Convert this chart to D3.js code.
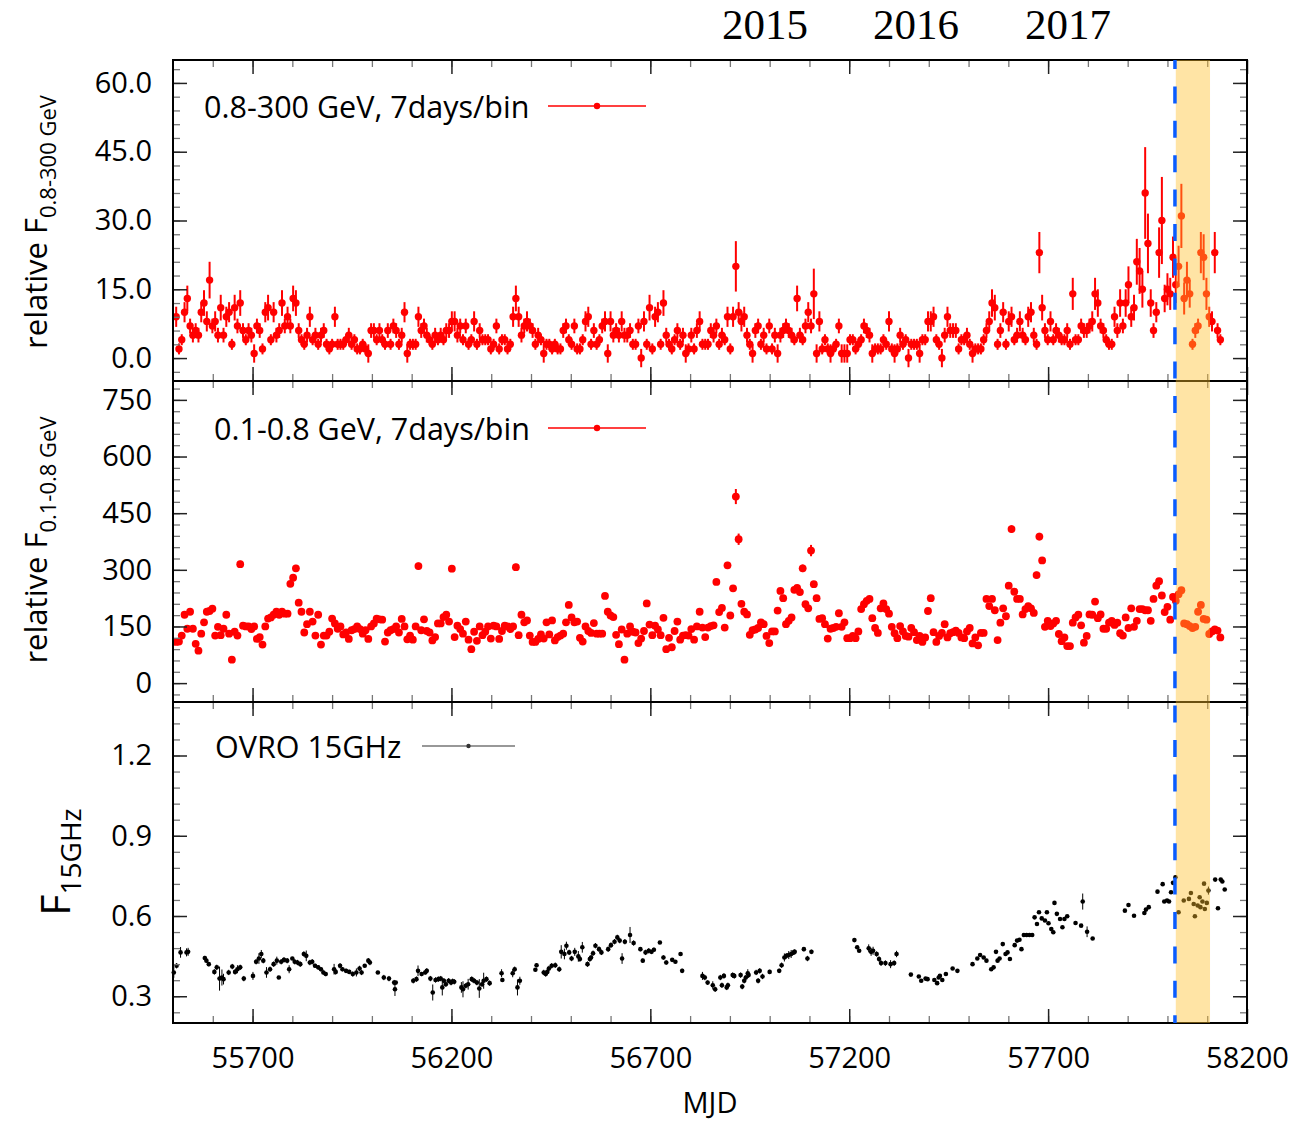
<!DOCTYPE html>
<html>
<head>
<meta charset="utf-8">
<script src="https://cdn.jsdelivr.net/npm/d3@7"></script>
<style>
  body { margin: 0; background: #fff; }
  svg text { font-family: "Open Sans", sans-serif; fill: #000; }
</style>
</head>
<body>
<svg id="chart" width="1311" height="1122"></svg>
<script>
// ---- Fermi-LAT weekly light curves (7 days/bin) ----
const binStart = 55508;
const binDays = 7;

// 0.8-300 GeV relative flux per bin
const gevFlux = [
  9,2,4,10,13,7,5,6,5,10, 12,8,17,7,8,5,11,5,9,10, 3,11,7,12,6,4,6,5,1,7,
  6,2,10,11,4,10,5,6,12,7, 9,7,13,12,6,4,3,5,9,4, 5,3,5,6,3,2,3,9,3,3,
  3,4,5,3,4,2,2,3,2,1, 6,6,4,6,4,3,6,3,7,6, 3,5,10,1,3,3,3,9,6,7,
  5,4,3,5,4,5,4,6,6,8, 8,5,7,4,7,3,4,8,3,6, 4,4,4,2,3,7,2,4,4,2,
  3,9,13,9,5,7,8,7,6,3, 5,4,1,3,3,2,3,2,2,6, 7,4,3,7,2,2,4,8,9,3,
  6,3,4,7,8,1,8,5,6,5, 8,5,5,6,3,3,7,0,8,3, 11,2,9,10,3,12,5,3,2,4,
  6,3,5,1,2,5,2,6,8,3, 3,3,6,
  5,7,3,5,4,9,2,9,20,10, 8,9,5,3,1,6,7,3,5,2, 7,2,5,1,5,6,7,6,5,4,
  13,5,4,7,10,7,14,1,8,2, 4,2,1,2,3,7,1,1,1,4, 4,2,3,4,7,6,5,1,2,2,
  2,4,3,8,2,1,2,5,3,4, 0,3,3,3,1,4,4,8,8,9, 4,3,0,5,9,6,6,6,2,4,
  4,5,3,1,2,2,2,4,6,8, 12,11,3,6,10,3,8,9,4,5, 8,5,4,9,10,5,3,23,11,6,
  4,8,4,6,5,4,4,6,3,14, 4,4,7,6,6,7,8,14,12,7, 6,4,3,3,9,6,12,7,12,16,
  9,11,21,19,15,36,25,12,6,10, 23,30,13,15,14,22,
  16,20,31,13,17,14,3,6,7,23,22,14,9,
  8,23,6,4
];
const gevErr = [
  2.2,1.2,1.2,2.2,2.8,1.6,1.6,1.6,1.6,2.2, 2.8,2.2,4,1.6,2.2,1.6,2.8,1.6,2.2,2.2,
  1.2,2.8,1.6,2.8,1.6,1.2,1.6,1.6,2,1.6, 1.6,1.2,2.2,2.8,1.2,2.2,1.6,1.6,2.8,1.6,
  2.2,1.6,2.8,2.8,1.6,1.2,1.2,1.6,2.2,1.2, 1.6,1.2,1.6,1.6,1.2,1.2,1.2,2.2,1.2,1.2,
  1.2,1.2,1.6,1.2,1.2,1.2,1.2,1.2,1.2,2, 1.6,1.6,1.2,1.6,1.2,1.2,1.6,1.2,1.6,1.6,
  1.2,1.6,2.2,2,1.2,1.2,1.2,2.2,1.6,1.6, 1.6,1.2,1.2,1.6,1.2,1.6,1.2,1.6,1.6,2.2,
  2.2,1.6,1.6,1.2,1.6,1.2,1.2,2.2,1.2,1.6, 1.2,1.2,1.2,1.2,1.2,1.6,1.2,1.2,1.2,1.2,
  1.2,2.2,2.8,2.2,1.6,1.6,2.2,1.6,1.6,1.2, 1.6,1.2,2,1.2,1.2,1.2,1.2,1.2,1.2,1.6,
  1.6,1.2,1.2,1.6,1.2,1.2,1.2,2.2,2.2,1.2, 1.6,1.2,1.2,1.6,2.2,2,2.2,1.6,1.6,1.6,
  2.2,1.6,1.6,1.6,1.2,1.2,1.6,2,2.2,1.2, 2.8,1.2,2.2,2.2,1.2,2.8,1.6,1.2,1.2,1.2,
  1.6,1.2,1.6,2,1.2,1.6,1.2,1.6,2.2,1.2, 1.2,1.2,1.6,
  1.6,1.6,1.2,1.6,1.2,2.2,1.2,2.2,5.5,2.2, 2.2,2.2,1.6,1.2,2,1.6,1.6,1.2,1.6,1.2,
  1.6,1.2,1.6,2,1.6,1.6,1.6,1.6,1.6,1.2, 2.8,1.6,1.2,1.6,2.2,1.6,5.5,2,2.2,1.2,
  1.2,1.2,2,1.2,1.2,1.6,2,2,2,1.2, 1.2,1.2,1.2,1.2,1.6,1.6,1.6,2,1.2,1.2,
  1.2,1.2,1.2,2.2,1.2,2,1.2,1.6,1.2,1.2, 2,1.2,1.2,1.2,2,1.2,1.2,2.2,2.2,2.2,
  1.2,1.2,2,1.6,2.2,1.6,1.6,1.6,1.2,1.2, 1.2,1.6,1.2,2,1.2,1.2,1.2,1.2,1.6,2.2,
  3,2.8,1.2,1.6,2.2,1.2,2.2,2.2,1.2,1.6, 2.2,1.6,1.2,2.2,2.2,1.6,1.2,4.5,2.8,1.6,
  1.2,2.2,1.2,1.6,1.6,1.2,1.2,1.6,1.2,3.5, 1.2,1.2,1.6,1.6,1.6,1.6,2.2,3.5,3,1.6,
  1.6,1.2,1.2,1.2,2.2,1.6,3,1.6,3,4, 2.2,2.8,5,5,4,10,6.5,3,1.6,2.2,
  5.5,9.5,3,3.5,3.5,4.5,
  4,4.5,7,3.5,4,3,1.2,1.6,1.6,4.5,5,3.5,2.2,
  2.2,4.5,1.6,1.2
];

// 0.1-0.8 GeV relative flux per bin
const softFlux = [
  109,110,126,181,144,189,144,104,86,131, 161,189,191,197,126,149,127,144,181,131,
  62,136,126,315,152,150,150,143,150,117, 122,102,150,171,174,181,189,181,189,184,
  184,263,279,304,213,189,134,156,189,163, 126,181,102,126,126,136,171,158,144,150,
  129,134,117,140,143,150,143,131,140,117, 150,158,171,169,168,110,134,140,143,150,
  134,170,150,116,126,115,150,310,140,169, 138,134,113,122,158,158,175,181,163,303,
  122,152,143,131,163,115,90,136,112,150, 127,136,150,118,152,150,117,138,152,150,
  143,150,307,127,181,161,166,126,109,109, 117,129,118,161,129,166,113,122,126,131,
  161,207,174,161,163,120,110,150,138,133, 159,131,131,131,231,189,179,175,128,103,
  142,62,131,150,136,134,106,118,138,211, 155,127,152,142,127,173,90,120,95,138,
  163,115,126,127,126,143,115,150,189,147, 122,147,
  151,153,268,188,199,147,312,179,251,494, 381,210,189,182,128,140,142,146,161,156,
  125,106,137,137,192,244,225,156,165,174, 247,252,241,304,209,198,351,262,225,170,
  172,156,118,144,146,149,185,149,161,119, 119,125,119,137,196,209,218,223,172,146,
  133,198,211,196,184,149,132,119,151,137, 125,123,146,135,114,125,109,121,191,225,
  135,109,125,133,156,121,132,135,139,133, 121,119,137,146,105,121,100,133,133,223,
  204,223,193,114,160,198,177,258,408,242, 223,223,182,196,204,198,186,286,388,325,
  149,165,151,158,165,130,111,121,98,98, 160,174,181,153,107,125,182,181,216,172,
  182,144,144,160,165,154,160,132,126,174, 146,198,149,165,196,196,193,193,165,223,
  258,270,232,188,202,168,228,
  218,235,246,158,156,151,146,149,189,207,170,168,130,
  137,142,139,121
];
const softErr = [
  5,5,5,5,5,5,5,5,5,5, 5,5,5,5,5,5,5,5,5,5, 5,5,5,9,5,5,5,5,5,5, 5,5,5,5,5,5,5,5,5,5,
  5,8,8,9,7,5,5,5,5,5, 5,5,5,5,5,5,5,5,5,5, 5,5,5,5,5,5,5,5,5,5, 5,5,5,5,5,5,5,5,5,5,
  5,5,5,5,5,5,5,9,5,5, 5,5,5,5,5,5,5,5,5,9, 5,5,5,5,5,5,5,5,5,5, 5,5,5,5,5,5,5,5,5,5,
  5,5,9,5,5,5,5,5,5,5, 5,5,5,5,5,5,5,5,5,5, 5,7,5,5,5,5,5,5,5,5, 5,5,5,5,7,5,5,5,5,5,
  5,5,5,5,5,5,5,5,5,7, 5,5,5,5,5,5,5,5,5,5, 5,5,5,5,5,5,5,5,5,5, 5,5,
  5,5,8,5,5,5,9,5,7,20, 15,7,5,5,5,5,5,5,5,5, 5,5,5,5,5,7,7,5,5,5, 7,7,7,10,7,5,15,8,7,5,
  5,5,5,5,5,5,5,5,5,5, 5,5,5,5,5,7,7,7,5,5, 5,5,7,5,5,5,5,5,5,5, 5,5,5,5,5,5,5,5,5,7,
  5,5,5,5,5,5,5,5,5,5, 5,5,5,5,5,5,5,5,5,7, 7,7,5,5,5,5,5,8,10,7, 7,7,5,5,7,5,5,9,10,9,
  5,5,5,5,5,5,5,5,5,5, 5,5,5,5,5,5,5,5,7,5, 5,5,5,5,5,5,5,5,5,5, 5,5,5,5,5,5,5,5,5,7,
  8,8,7,5,7,5,7,
  7,7,7,5,5,5,5,5,5,7,5,5,5,
  5,5,5,5
];

// ---- OVRO 40 m, 15 GHz flux density (Jy) ----
const ovroMjd = [
  55502,55509,55519,55534,55538,55580,55584,55590,55604,55610,
  55617,55623,55627,55640,55649,55656,55662,55669,55678,55701,
  55709,55716,55722,55727,55735,55744,55753,55761,55766,55772,
  55779,55787,55792,55800,55806,55813,55820,55829,55835,55844,
  55850,55857,55865,55872,55878,55884,55905,55909,55920,55926,
  55935,55943,55952,55961,55969,55974,55982,55991,55995,56015,
  56030,56043,56056,56058,56060,56104,56112,56116,56125,56134,
  56138,56147,56153,56160,56167,56173,56177,56181,56186,56193,
  56199,56203,56207,56225,56229,56236,56242,56251,56257,56264,
  56270,56277,56281,56288,56296,56326,56328,56354,56359,56366,
  56372,56411,56414,56432,56437,56441,56445,56452,56461,56471,
  56476,56484,56489,56496,56502,56510,56519,56523,56529,56542,
  56548,56551,56556,56562,56571,56577,56594,56601,56610,56617,
  56623,56629,56636,56649,56658,56675,56681,56688,56696,56703,
  56709,56724,56733,56740,56755,56763,56776,56780,56831,56837,
  56844,
  56857,56863,56876,56880,56885,56892,56895,56907,56911,56927,
  56931,56936,56940,56945,56947,56966,56971,56975,56982,57000,
  57024,57030,57037,57042,57048,57054,57060,57063,57086,57095,
  57105,57213,57220,57225,57249,57255,57260,57269,57275,57280,
  57291,57304,57313,57319,57355,57375,57381,57392,57397,57414,
  57421,57425,57428,57434,57443,57460,57472,57510,57522,57529,
  57538,57545,57557,57563,57569,57573,57578,57586,57593,57598,
  57604,57616,57622,57628,57633,57639,57646,57653,57660,57666,
  57672,57677,57684,57692,57697,57701,57708,57713,57716,57722,
  57730,57736,57741,57748,57769,57783,57787,57798,57812,57893,
  57902,57916,57942,57946,57953,57975,57988,57992,57999,58004,
  58009,58014,58020,58028,58041,58054,58059,58066,58069,58076,
  58081,58083,58088,58092,58094,58099,58103,58120,58127,58134,
  58138,58144
];
const ovroFlux = [
  0.389,0.414,0.464,0.464,0.466,0.443,0.433,0.420,0.391,0.408,
  0.366,0.370,0.364,0.389,0.411,0.391,0.401,0.408,0.366,0.376,
  0.429,0.441,0.458,0.433,0.389,0.401,0.420,0.433,0.370,0.429,
  0.436,0.433,0.401,0.441,0.429,0.426,0.420,0.458,0.451,0.426,
  0.429,0.414,0.408,0.401,0.389,0.383,0.401,0.391,0.414,0.401,
  0.395,0.391,0.383,0.389,0.404,0.389,0.414,0.433,0.426,0.389,
  0.370,0.366,0.351,0.326,0.351,0.358,0.364,0.395,0.383,0.389,
  0.395,0.366,0.314,0.361,0.364,0.366,0.333,0.358,0.345,0.358,
  0.351,0.356,0.354,0.333,0.326,0.339,0.345,0.364,0.358,0.351,
  0.329,0.345,0.358,0.364,0.349,0.386,0.361,0.386,0.401,0.333,
  0.358,0.399,0.416,0.389,0.383,0.391,0.404,0.414,0.416,0.401,
  0.466,0.458,0.489,0.464,0.441,0.466,0.449,0.439,0.483,0.420,
  0.439,0.445,0.461,0.489,0.476,0.464,0.476,0.491,0.504,0.520,
  0.508,0.441,0.504,0.529,0.499,0.476,0.433,0.464,0.470,0.466,
  0.474,0.501,0.445,0.426,0.436,0.429,0.458,0.395,0.376,0.370,
  0.351,
  0.341,0.326,0.370,0.341,0.376,0.333,0.341,0.379,0.376,0.379,
  0.336,0.358,0.370,0.386,0.379,0.389,0.358,0.395,0.374,0.391,
  0.395,0.416,0.445,0.451,0.454,0.458,0.464,0.466,0.476,0.441,
  0.466,0.510,0.483,0.470,0.479,0.466,0.470,0.458,0.439,0.424,
  0.424,0.420,0.424,0.458,0.381,0.374,0.358,0.366,0.364,0.361,
  0.349,0.370,0.376,0.361,0.383,0.404,0.395,0.420,0.441,0.454,
  0.445,0.433,0.401,0.408,0.466,0.433,0.441,0.495,0.458,0.464,
  0.439,0.491,0.508,0.511,0.476,0.529,0.529,0.529,0.529,0.595,
  0.570,0.614,0.591,0.583,0.614,0.573,0.551,0.539,0.649,0.608,
  0.589,0.558,0.589,0.599,0.574,0.564,0.654,0.541,0.516,0.620,
  0.641,0.601,0.611,0.624,0.633,0.691,0.719,0.654,0.658,0.654,
  0.689,0.724,0.745,0.614,0.658,0.664,0.686,0.645,0.599,0.639,
  0.670,0.633,0.654,0.721,0.626,0.649,0.695,0.736,0.629,0.736,
  0.729,0.699
];
const ovroErr = [
  .02,.01,.02,.015,.015,.008,.008,.008,.01,.01,
  .045,.03,.02,.01,.01,.01,.015,.01,.01,.015,
  .01,.02,.015,.01,.02,.01,.01,.015,.006,.01,
  .01,.01,.015,.006,.01,.01,.01,.01,.02,.01,
  .01,.008,.008,.008,.008,.008,.02,.01,.01,.008,
  .008,.008,.01,.015,.01,.01,.006,.01,.01,.006,
  .01,.01,.01,.025,.006,.01,.01,.02,.008,.008,
  .01,.01,.03,.01,.01,.01,.03,.01,.01,.01,
  .01,.01,.01,.02,.03,.01,.02,.01,.01,.01,
  .035,.01,.03,.01,.01,.015,.006,.015,.01,.03,
  .015,.006,.008,.01,.01,.01,.01,.01,.01,.01,
  .025,.02,.015,.01,.01,.015,.02,.01,.02,.01,
  .01,.01,.01,.01,.01,.01,.01,.01,.01,.01,
  .01,.02,.01,.03,.01,.008,.008,.01,.01,.006,
  .008,.006,.008,.008,.006,.006,.006,.008,.015,.01,
  .008,
  .015,.01,.01,.01,.01,.01,.01,.01,.01,.01,
  .01,.01,.01,.015,.01,.01,.01,.01,.01,.008,
  .008,.01,.015,.01,.015,.015,.01,.01,.008,.01,
  .008,.006,.006,.006,.015,.015,.015,.01,.01,.01,
  .01,.015,.01,.012,.005,.005,.005,.005,.005,.005,
  .005,.005,.006,.006,.005,.005,.005,.005,.005,.005,
  .005,.005,.005,.005,.005,.005,.005,.005,.005,.005,
  .005,.005,.005,.005,.005,.005,.005,.005,.005,.005,
  .005,.005,.005,.005,.005,.005,.005,.005,.005,.005,
  .005,.005,.005,.005,.005,.005,.03,.02,.005,.005,
  .005,.005,.005,.005,.005,.005,.005,.005,.005,.005,
  .005,.005,.008,.005,.005,.005,.005,.005,.005,.005,
  .005,.005,.005,.005,.005,.005,.015,.005,.005,.005,
  .005,.005
];

// ---- annotations ----
const alertMjd = 58018.87;          // neutrino alert epoch
const windowMjd = [58021, 58107];   // highlighted follow-up window
const yearNames = ["2015", "2016", "2017"];
const yearMjd = [56988, 57368, 57750];
const xMajor = [55700, 56200, 56700, 57200, 57700, 58200];

// ---- layout ----
const svg = d3.select("#chart");
const x = d3.scaleLinear().domain([55500, 58200]).range([173, 1247]);
const [L, R] = x.range();

const panels = [
  {
    y: d3.scaleLinear().domain([-5, 65]).range([381, 60]),
    major: d3.range(0, 61, 15), minor: d3.range(-3, 64, 3),
    fmt: d3.format(".1f")
  },
  {
    y: d3.scaleLinear().domain([-50, 800]).range([702, 381]),
    major: d3.range(0, 751, 150), minor: d3.range(-30, 790, 30),
    fmt: d3.format("d")
  },
  {
    y: d3.scaleLinear().domain([0.2, 1.4]).range([1023, 702]),
    major: [0.3, 0.6, 0.9, 1.2], minor: d3.range(24, 139, 6).map(v => v / 100),
    fmt: d3.format(".1f")
  }
];
const xMinor = d3.range(55600, 58200, 100);

const binMjd = i => binStart + i * binDays;

// ---- data marks ----
function drawSeries(p, mjd, val, err, color, r, errW) {
  const g = svg.append("g");
  g.selectAll("line").data(val).join("line")
    .attr("x1", (d, i) => x(mjd(i))).attr("x2", (d, i) => x(mjd(i)))
    .attr("y1", (d, i) => p.y(d - err[i])).attr("y2", (d, i) => p.y(d + err[i]))
    .attr("stroke", color).attr("stroke-width", errW);
  g.selectAll("circle").data(val).join("circle")
    .attr("cx", (d, i) => x(mjd(i))).attr("cy", d => p.y(d))
    .attr("r", r).attr("fill", color);
}
drawSeries(panels[0], binMjd, gevFlux, gevErr, "#ff0000", 3.7, 2);
drawSeries(panels[1], binMjd, softFlux, softErr, "#ff0000", 3.9, 2);
drawSeries(panels[2], i => ovroMjd[i], ovroFlux, ovroErr, "#000000", 2.3, 1);

// ---- frames and ticks ----
function styleTicks(sel, color, width) {
  sel.select(".domain").remove();
  sel.selectAll(".tick line").attr("stroke", color).attr("stroke-width", width);
}
panels.forEach((p, k) => {
  const [B, T] = p.y.range();
  const g = svg.append("g");
  const majorLen = -14, minorLen = -7;

  // y axes (left with labels, right mirrored)
  g.append("g").attr("transform", `translate(${L},0)`)
    .call(d3.axisLeft(p.y).tickValues(p.minor).tickFormat("").tickSizeInner(minorLen).tickSizeOuter(0))
    .call(s => styleTicks(s, "#777", 1.3));
  g.append("g").attr("transform", `translate(${R},0)`)
    .call(d3.axisRight(p.y).tickValues(p.minor).tickFormat("").tickSizeInner(minorLen).tickSizeOuter(0))
    .call(s => styleTicks(s, "#777", 1.3));
  g.append("g").attr("transform", `translate(${L},0)`)
    .call(d3.axisLeft(p.y).tickValues(p.major).tickFormat(p.fmt).tickSizeInner(majorLen).tickSizeOuter(0).tickPadding(21))
    .call(s => styleTicks(s, "#222", 1.5))
    .call(s => s.selectAll("text").attr("font-size", 29).attr("fill", "#000"));
  g.append("g").attr("transform", `translate(${R},0)`)
    .call(d3.axisRight(p.y).tickValues(p.major).tickFormat("").tickSizeInner(majorLen).tickSizeOuter(0))
    .call(s => styleTicks(s, "#222", 1.5));

  // x axes (top and bottom of every panel)
  [[d3.axisTop, T], [d3.axisBottom, B]].forEach(([axis, yy]) => {
    g.append("g").attr("transform", `translate(0,${yy})`)
      .call(axis(x).tickValues(xMinor).tickFormat("").tickSizeInner(minorLen).tickSizeOuter(0))
      .call(s => styleTicks(s, "#777", 1.3));
    const showLabels = (k === 2 && axis === d3.axisBottom);
    g.append("g").attr("transform", `translate(0,${yy})`)
      .call(axis(x).tickValues(xMajor).tickFormat(showLabels ? d3.format("d") : "")
        .tickSizeInner(majorLen).tickSizeOuter(0).tickPadding(24))
      .call(s => styleTicks(s, "#222", 1.5))
      .call(s => s.selectAll("text").attr("font-size", 29).attr("fill", "#000"));
  });

  g.append("rect").attr("x", L).attr("y", T).attr("width", R - L).attr("height", B - T)
    .attr("fill", "none").attr("stroke", "#000").attr("stroke-width", 2);
});

// ---- highlighted window and alert line ----
const yAll = [panels[0].y.range()[1], panels[2].y.range()[0]];
svg.append("rect")
  .attr("x", x(windowMjd[0])).attr("y", yAll[0])
  .attr("width", x(windowMjd[1]) - x(windowMjd[0])).attr("height", yAll[1] - yAll[0])
  .attr("fill", "rgb(255,190,40)").attr("fill-opacity", 0.42);
svg.append("line")
  .attr("x1", x(alertMjd)).attr("x2", x(alertMjd))
  .attr("y1", yAll[0]).attr("y2", yAll[1])
  .attr("stroke", "#0a5cff").attr("stroke-width", 3.5)
  .attr("stroke-dasharray", "17,17.4").attr("stroke-dashoffset", 8);

// ---- legends ----
function legend(label, tx, ty, lx0, lx1, ly, color, r, lw, size) {
  svg.append("text").attr("x", tx).attr("y", ty).attr("font-size", size).text(label);
  svg.append("line").attr("x1", lx0).attr("x2", lx1).attr("y1", ly).attr("y2", ly)
    .attr("stroke", color).attr("stroke-width", lw);
  svg.append("circle").attr("cx", (lx0 + lx1) / 2).attr("cy", ly).attr("r", r).attr("fill", color);
}
legend("0.8-300 GeV, 7days/bin", 204, 118, 548, 646, 106, "#ff0000", 3.2, 1.5, 30.5);
legend("0.1-0.8 GeV, 7days/bin", 214, 440, 548, 646, 428, "#ff0000", 3.2, 1.5, 30.5);
legend("OVRO 15GHz", 215, 758, 422, 515, 746, "#333", 2.2, 1.2, 30.5);

// ---- axis titles ----
function yTitle(cx, cy, main, sub, mainSize, subSize, shift) {
  const t = svg.append("text")
    .attr("transform", `translate(${cx},${cy}) rotate(-90)`)
    .attr("text-anchor", "middle");
  t.append("tspan").attr("font-size", mainSize).text(main);
  t.append("tspan").attr("font-size", subSize).attr("dy", shift).text(sub);
}
yTitle(47, 222, "relative F", "0.8-300 GeV", 31, 22, 9);
yTitle(47, 540, "relative F", "0.1-0.8 GeV", 31, 22, 9);
yTitle(70, 862, "F", "15GHz", 41, 28, 11);

svg.append("text").attr("x", 710).attr("y", 1113).attr("text-anchor", "middle")
  .attr("font-size", 29).text("MJD");

// ---- calendar years ----
svg.selectAll("text.year").data(yearNames).join("text")
  .attr("class", "year")
  .attr("x", (d, i) => x(yearMjd[i])).attr("y", 39)
  .attr("text-anchor", "middle")
  .style("font-family", "'Liberation Serif', serif")
  .attr("font-size", 43)
  .text(d => d);
</script>
</body>
</html>
